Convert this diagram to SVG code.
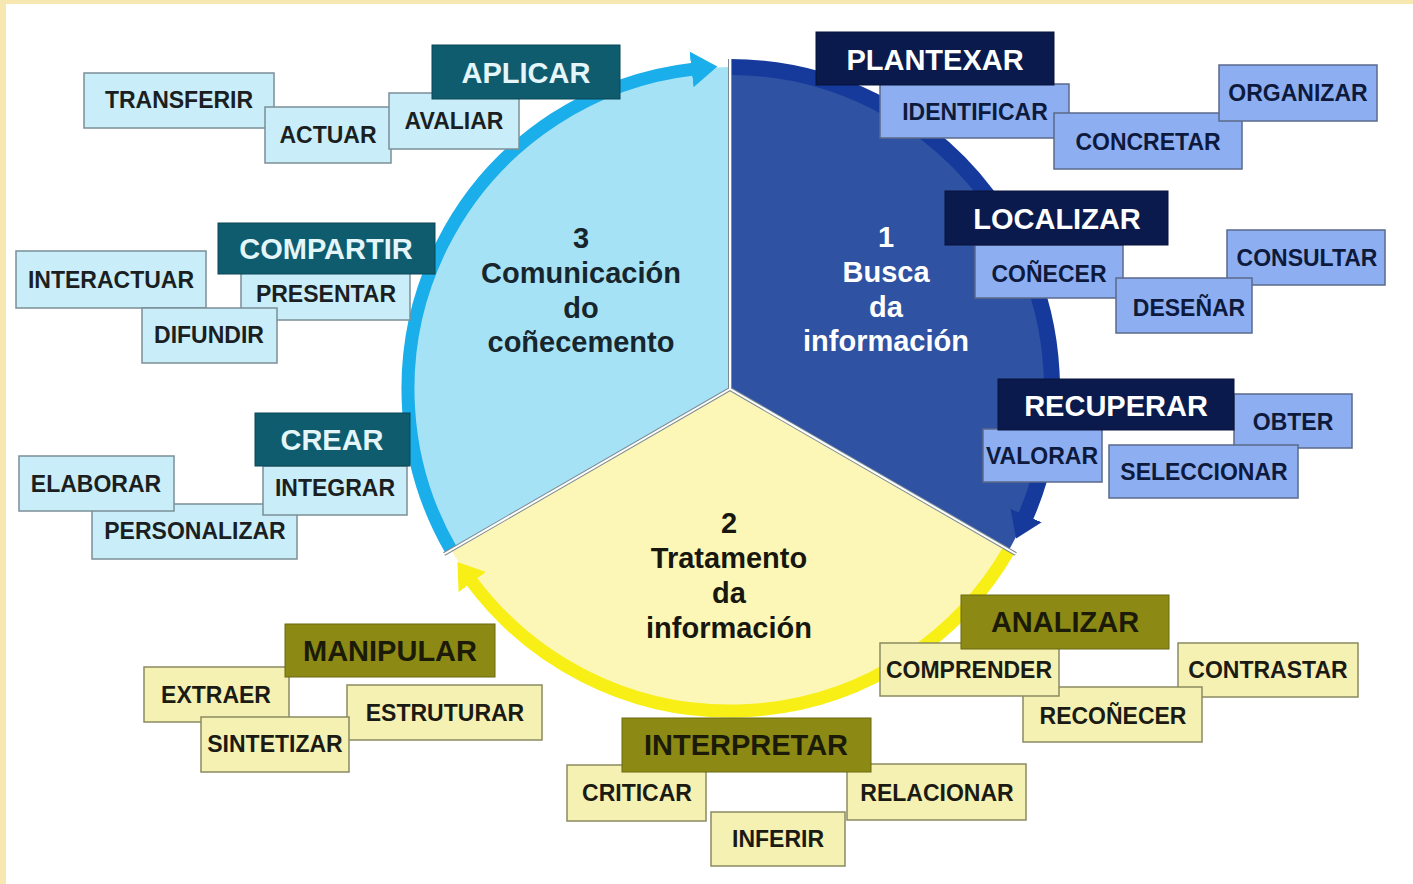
<svg xmlns="http://www.w3.org/2000/svg" width="1413" height="884" viewBox="0 0 1413 884">
<defs>
<style>
text{font-family:"Liberation Sans",Arial,sans-serif;font-weight:bold;text-anchor:middle}
.t3 rect{fill:#c9eefa;stroke:#7b8f96;stroke-width:1.5}
.t3 text{fill:#1b1f22;font-size:23px}
.h3 rect{fill:#0f5c6f;stroke:#0b4656;stroke-width:1}
.h3 text{fill:#e4f6fa;font-size:29px}
.t1 rect{fill:#8eaef2;stroke:#5a6a8a;stroke-width:1.5}
.t1 text{fill:#0d1a3c;font-size:23px}
.h1 rect{fill:#0b1a4c;stroke:#08123a;stroke-width:1}
.h1 text{fill:#ffffff;font-size:29px}
.t2 rect{fill:#f5f1b3;stroke:#8a8a62;stroke-width:1.5}
.t2 text{fill:#1b1b14;font-size:23px}
.h2 rect{fill:#8c8a14;stroke:#6a6810;stroke-width:1}
.h2 text{fill:#1b1b08;font-size:29px}
.ctr{font-size:29px}
.sep{stroke:#7d8c92;stroke-width:4}
.sepw{stroke:#ffffff;stroke-width:2}
.ring{fill:none}
</style>
<marker id="ah-lb" markerUnits="userSpaceOnUse" markerWidth="30" markerHeight="40" refX="2" refY="18" orient="auto"><path d="M0,0 L26,18 L0,36 Z" fill="#1aaeea"/></marker>
<marker id="ah-db" markerUnits="userSpaceOnUse" markerWidth="30" markerHeight="40" refX="2" refY="17" orient="auto"><path d="M0,0 L25,17 L0,34 Z" fill="#163a9c"/></marker>
<marker id="ah-y" markerUnits="userSpaceOnUse" markerWidth="30" markerHeight="40" refX="2" refY="17" orient="auto"><path d="M0,0 L25,17 L0,34 Z" fill="#f7ef16"/></marker>
</defs>
<rect x="0" y="0" width="1413" height="884" fill="#f7e7b0"/>
<rect x="6" y="4" width="1407" height="880" fill="#ffffff"/>

<g id="pie">
<path id="sector1" d="M730,389 L730,67 A322,322 0 0,1 1008.9,550 Z" fill="#2f52a2"/>
<path id="sector2" d="M730,389 L1008.9,550 A322,322 0 0,1 451.1,550 Z" fill="#fcf7b6"/>
<path id="sector3" d="M730,389 L451.1,550 A322,322 0 0,1 730,67 Z" fill="#a6e2f6"/>
</g>

<g id="connectors">
<path class="ring" d="M451.1,550 A322,322 0 0,1 693.5,69.1" stroke="#1aaeea" stroke-width="13" marker-end="url(#ah-lb)"/>
<path class="ring" d="M730,67 A322,322 0 0,1 1025.3,517.4" stroke="#163a9c" stroke-width="16" marker-end="url(#ah-db)"/>
<path class="ring" d="M1008.9,550 A322,322 0 0,1 471.1,580.5" stroke="#f7ef16" stroke-width="13" marker-end="url(#ah-y)"/>
<line class="sep" x1="730" y1="389" x2="730" y2="59"/>
<line class="sep" x1="730" y1="389" x2="1015.8" y2="554"/>
<line class="sep" x1="730" y1="389" x2="444.2" y2="554"/>
<line class="sepw" x1="730" y1="389" x2="730" y2="59"/>
<line class="sepw" x1="730" y1="389" x2="1015.8" y2="554"/>
<line class="sepw" x1="730" y1="389" x2="444.2" y2="554"/>
</g>

<g id="label3" class="ctr" fill="#17262c">
<text x="581" y="248">3</text>
<text x="581" y="283">Comunicación</text>
<text x="581" y="318">do</text>
<text x="581" y="352">coñecemento</text>
</g>
<g id="label1" class="ctr" fill="#ffffff">
<text x="886" y="247">1</text>
<text x="886" y="282">Busca</text>
<text x="886" y="317">da</text>
<text x="886" y="351">información</text>
</g>
<g id="label2" class="ctr" fill="#17170f">
<text x="729" y="533">2</text>
<text x="729" y="568">Tratamento</text>
<text x="729" y="603">da</text>
<text x="729" y="638">información</text>
</g>

<!-- Group 3 -->
<g id="transferir" class="t3"><rect x="84" y="73" width="190" height="55"/><text x="179" y="108">TRANSFERIR</text></g>
<g id="actuar" class="t3"><rect x="265" y="107" width="126" height="56"/><text x="328" y="143">ACTUAR</text></g>
<g id="avaliar" class="t3"><rect x="389" y="93" width="130" height="56"/><text x="454" y="129">AVALIAR</text></g>
<g id="aplicar" class="h3"><rect x="432" y="45" width="188" height="54"/><text x="526" y="83">APLICAR</text></g>

<g id="interactuar" class="t3"><rect x="16" y="251" width="190" height="57"/><text x="111" y="288">INTERACTUAR</text></g>
<g id="presentar" class="t3"><rect x="241" y="268" width="169" height="52"/><text x="326" y="302">PRESENTAR</text></g>
<g id="difundir" class="t3"><rect x="142" y="308" width="135" height="55"/><text x="209" y="343">DIFUNDIR</text></g>
<g id="compartir" class="h3"><rect x="218" y="223" width="217" height="51"/><text x="326" y="259">COMPARTIR</text></g>

<g id="personalizar" class="t3"><rect x="92" y="504" width="205" height="55"/><text x="195" y="539">PERSONALIZAR</text></g>
<g id="elaborar" class="t3"><rect x="19" y="456" width="155" height="55"/><text x="96" y="492">ELABORAR</text></g>
<g id="integrar" class="t3"><rect x="263" y="466" width="144" height="49"/><text x="335" y="496">INTEGRAR</text></g>
<g id="crear" class="h3"><rect x="255" y="413" width="155" height="53"/><text x="332" y="450">CREAR</text></g>

<!-- Group 1 -->
<g id="identificar" class="t1"><rect x="880" y="84" width="189" height="54"/><text x="975" y="120">IDENTIFICAR</text></g>
<g id="concretar" class="t1"><rect x="1054" y="113" width="188" height="56"/><text x="1148" y="150">CONCRETAR</text></g>
<g id="organizar" class="t1"><rect x="1219" y="65" width="158" height="56"/><text x="1298" y="101">ORGANIZAR</text></g>
<g id="plantexar" class="h1"><rect x="816" y="32" width="238" height="53"/><text x="935" y="70">PLANTEXAR</text></g>

<g id="conecer" class="t1"><rect x="975" y="245" width="148" height="53"/><text x="1049" y="282">COÑECER</text></g>
<g id="consultar" class="t1"><rect x="1227" y="230" width="158" height="55"/><text x="1307" y="266">CONSULTAR</text></g>
<g id="desenar" class="t1"><rect x="1116" y="278" width="136" height="55"/><text x="1189" y="316">DESEÑAR</text></g>
<g id="localizar" class="h1"><rect x="945" y="191" width="223" height="54"/><text x="1057" y="229">LOCALIZAR</text></g>

<g id="obter" class="t1"><rect x="1234" y="394" width="118" height="54"/><text x="1293" y="430">OBTER</text></g>
<g id="valorar" class="t1"><rect x="983" y="429" width="119" height="53"/><text x="1042" y="464">VALORAR</text></g>
<g id="seleccionar" class="t1"><rect x="1109" y="445" width="189" height="53"/><text x="1204" y="480">SELECCIONAR</text></g>
<g id="recuperar" class="h1"><rect x="998" y="379" width="236" height="51"/><text x="1116" y="416">RECUPERAR</text></g>

<!-- Group 2 -->
<g id="extraer" class="t2"><rect x="144" y="667" width="145" height="55"/><text x="216" y="703">EXTRAER</text></g>
<g id="estruturar" class="t2"><rect x="347" y="685" width="195" height="55"/><text x="445" y="721">ESTRUTURAR</text></g>
<g id="sintetizar" class="t2"><rect x="201" y="717" width="148" height="55"/><text x="275" y="752">SINTETIZAR</text></g>
<g id="manipular" class="h2"><rect x="285" y="624" width="210" height="53"/><text x="390" y="661">MANIPULAR</text></g>

<g id="contrastar" class="t2"><rect x="1178" y="643" width="180" height="54"/><text x="1268" y="678">CONTRASTAR</text></g>
<g id="reconecer" class="t2"><rect x="1023" y="687" width="179" height="55"/><text x="1113" y="724">RECOÑECER</text></g>
<g id="comprender" class="t2"><rect x="880" y="643" width="179" height="53"/><text x="969" y="678">COMPRENDER</text></g>
<g id="analizar" class="h2"><rect x="961" y="595" width="208" height="54"/><text x="1065" y="632">ANALIZAR</text></g>

<g id="criticar" class="t2"><rect x="567" y="765" width="139" height="56"/><text x="637" y="801">CRITICAR</text></g>
<g id="relacionar" class="t2"><rect x="847" y="764" width="179" height="56"/><text x="937" y="801">RELACIONAR</text></g>
<g id="inferir" class="t2"><rect x="711" y="812" width="134" height="54"/><text x="778" y="847">INFERIR</text></g>
<g id="interpretar" class="h2"><rect x="622" y="718" width="249" height="54"/><text x="746" y="755">INTERPRETAR</text></g>
</svg>
